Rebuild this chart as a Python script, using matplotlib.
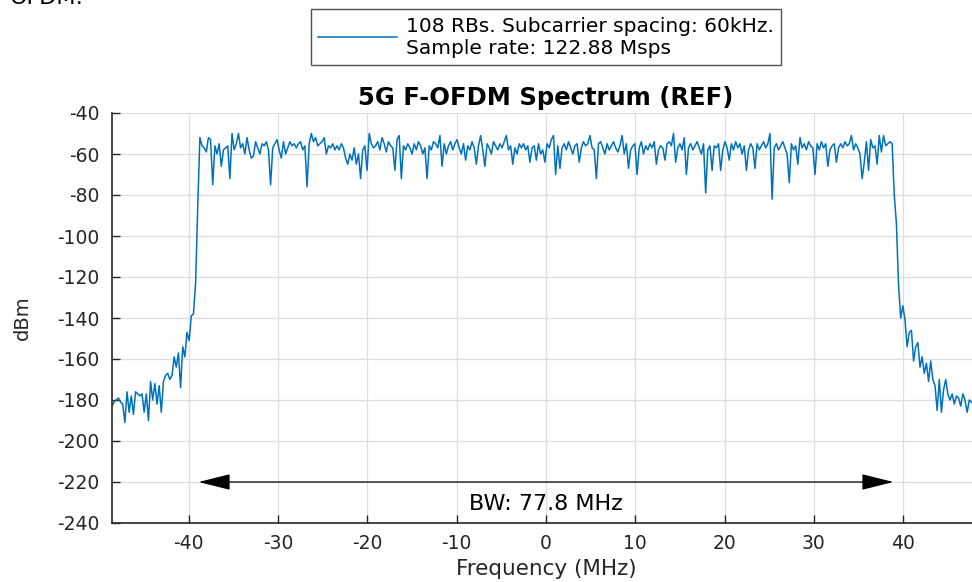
import numpy as np
import matplotlib
matplotlib.use("Agg")
import matplotlib.pyplot as plt

plt.rcParams['font.family'] = ['DejaVu Sans']
plt.rcParams['axes.unicode_minus'] = False

# spectrum, in dBm (uniform frequency grid, +-48.6 MHz)
left_skirt = [
    -183, -181, -180, -179, -181, -182, -191, -176, -186, -178,
    -187, -176, -177, -178, -177, -186, -177, -190, -171, -180,
    -172, -182, -173, -186, -171, -168, -167, -170, -168, -159,
    -164, -157, -174, -154, -159, -147, -151, -139, -138, -123,
    -86,
]
in_band = [
    -52, -56, -57, -59, -52, -53, -75, -56, -60, -55,
    -66, -58, -57, -56, -72, -50, -58, -55, -50, -57,
    -55, -60, -52, -58, -62, -61, -54, -57, -60, -55,
    -56, -54, -58, -75, -57, -55, -53, -58, -62, -54,
    -60, -57, -54, -56, -55, -57, -55, -54, -58, -56,
    -76, -55, -50, -54, -52, -56, -55, -54, -52, -60,
    -56, -57, -55, -58, -56, -58, -55, -57, -62, -65,
    -60, -63, -57, -65, -60, -72, -58, -56, -68, -50,
    -55, -57, -56, -54, -58, -52, -55, -59, -54, -56,
    -57, -68, -53, -51, -72, -56, -58, -55, -57, -60,
    -55, -58, -54, -56, -60, -57, -72, -56, -58, -54,
    -55, -57, -51, -66, -55, -60, -56, -54, -58, -55,
    -53, -57, -60, -55, -63, -56, -58, -54, -57, -65,
    -56, -51, -58, -66, -55, -57, -60, -54, -56, -58,
    -55, -57, -54, -51, -58, -56, -65, -57, -60, -55,
    -57, -55, -58, -56, -64, -57, -56, -63, -55, -60,
    -58, -64, -55, -57, -53, -51, -70, -56, -67, -57,
    -55, -58, -54, -57, -60, -56, -55, -64, -57, -54,
    -56, -55, -51, -57, -58, -72, -55, -54, -57, -60,
    -55, -58, -56, -54, -57, -59, -56, -51, -60, -55,
    -67, -58, -56, -55, -70, -57, -54, -60, -56, -58,
    -55, -57, -54, -65, -58, -56, -57, -63, -55, -54,
    -56, -50, -64, -57, -55, -58, -52, -70, -57, -55,
    -58, -56, -54, -57, -60, -55, -79, -58, -56, -68,
    -56, -57, -55, -68, -58, -54, -57, -63, -55, -58,
    -54, -57, -55, -60, -56, -68, -58, -55, -57, -67,
    -55, -58, -56, -54, -57, -55, -50, -82, -57, -55,
    -58, -56, -54, -57, -60, -74, -55, -58, -56, -65,
    -52, -57, -55, -58, -54, -56, -57, -70, -55, -58,
    -54, -57, -55, -66, -58, -56, -55, -64, -57, -55,
    -57, -54, -56, -55, -51, -58, -55, -57, -60, -72,
    -64, -54, -68, -53, -57, -56, -65, -51, -59, -51,
    -56, -55, -54, -55,
]
right_skirt = [
    -80, -94, -124, -140, -134, -141, -154, -147, -146, -161,
    -154, -152, -164, -159, -167, -162, -171, -161, -170, -173,
    -185, -170, -186, -175, -170, -177, -180, -177, -182, -178,
    -179, -183, -177, -180, -186, -180, -181, -182, -184, -182,
    -185,
]
psd_dbm = left_skirt + in_band + right_skirt
f_span = 48.6
freq_mhz = np.linspace(-f_span, f_span, len(psd_dbm))

bw_edges = [-38.9, 38.9]
bw_label = "BW: 77.8 MHz"
legend_label = "108 RBs. Subcarrier spacing: 60kHz.\nSample rate: 122.88 Msps"

fig = plt.figure(figsize=(9.72, 5.82), dpi=100)
ax = fig.add_axes([112/972, 1 - 523/582, (980 - 112)/972, (523 - 113)/582])

line, = ax.plot(freq_mhz, psd_dbm, color='#0072BD', linewidth=1.1, label=legend_label)

ax.set_xlim(-f_span, f_span)
ax.set_ylim(-240, -40)
ax.set_xticks(np.arange(-40, 41, 10))
ax.set_yticks(np.arange(-240, -39, 20))
ax.grid(True, color='#dedede', linewidth=0.9)
ax.set_axisbelow(True)
for s in ['top', 'right']:
    ax.spines[s].set_visible(False)
for s in ['left', 'bottom']:
    ax.spines[s].set_color('#262626')
    ax.spines[s].set_linewidth(1.2)
ax.tick_params(direction='in', length=6, width=1.0, colors='#262626', labelsize=13.5)
ax.tick_params(axis='x', pad=8)
ax.tick_params(axis='y', pad=9)

ax.set_xlabel("Frequency (MHz)", fontsize=15.5, color='#262626', va='center')
ax.xaxis.set_label_coords(0.5, -0.1122)
ax.set_ylabel("dBm", fontsize=14, color='#262626', va='center')
ax.yaxis.set_label_coords(-0.103, 0.5)
ax.set_title("5G F-OFDM Spectrum (REF)", fontsize=17.5, fontweight='bold', pad=6)

# bandwidth arrow
ax.annotate('', xy=(bw_edges[0], -220), xytext=(bw_edges[1], -220),
            arrowprops=dict(arrowstyle='<|-|>,head_length=1.0,head_width=0.25',
                            mutation_scale=20, color='black', linewidth=0.9,
                            shrinkA=0, shrinkB=0))
ax.text(0, -230.5, bw_label, ha='center', va='center', fontsize=16)

leg = fig.legend(handles=[line], loc='center', bbox_to_anchor=(546/972, 1 - 37/582),
                 fontsize=14.5, frameon=True, fancybox=False, handlelength=3.9,
                 borderpad=0.35, handletextpad=0.45)
leg.get_frame().set_edgecolor('#262626')
leg.get_frame().set_linewidth(1.0)

# clipped caption at the very top
fig.text(10/972, 1 - 4/582, "OFDM:", fontsize=16, va='baseline', ha='left')

fig.savefig("out.png", dpi=100)
